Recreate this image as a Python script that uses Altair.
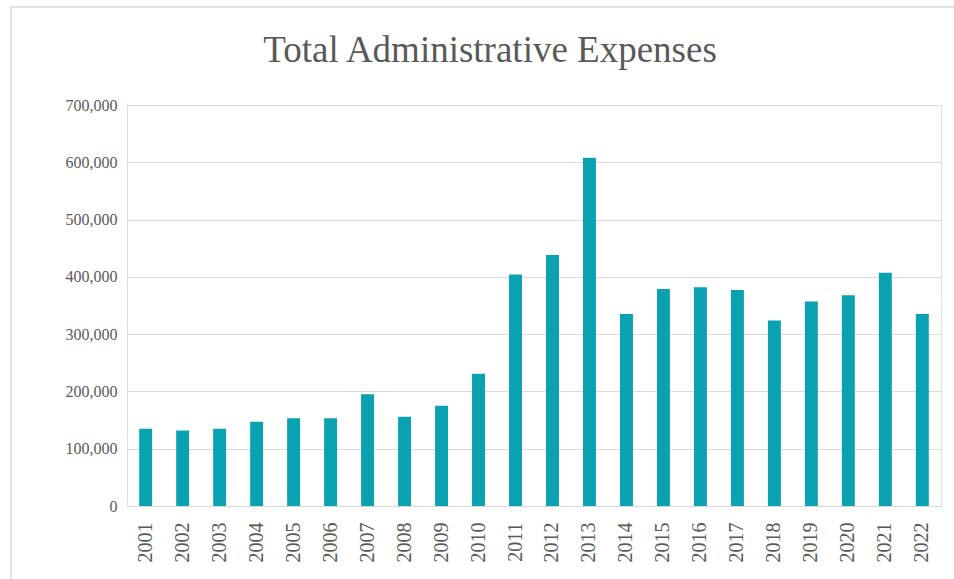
import altair as alt
import pandas as pd

title_text = "Total Administrative Expenses"
years = [str(y) for y in range(2001, 2023)]
expenses = [135000, 132000, 135000, 147000, 153000, 153000, 195000, 156000, 175000, 231000,
            404000, 438000, 608000, 335000, 379000, 382000, 377000, 324000, 357000, 368000,
            407000, 335000]
y_ticks = [0, 100000, 200000, 300000, 400000, 500000, 600000, 700000]

df = pd.DataFrame({"Year": years, "Expenses": expenses})
single = pd.DataFrame({"t": [title_text]})

W, H = 814, 401
FONT = "Liberation Serif"

bars = alt.Chart(df).mark_bar(color="#0aa2b1").encode(
    x=alt.X("Year:N", sort=years,
            scale=alt.Scale(paddingInner=0.65, paddingOuter=0.33),
            axis=alt.Axis(title=None, labelAngle=270, labelFont=FONT, labelFontSize=20,
                          labelColor="#595959", labelPadding=16, ticks=False,
                          domainColor="#d9d9d9", labelBaseline="middle", labelAlign="right")),
    y=alt.Y("Expenses:Q", scale=alt.Scale(domain=[0, 700000], nice=False),
            axis=alt.Axis(title=None, values=y_ticks, format=",d", labelFont=FONT,
                          labelFontSize=16, labelColor="#595959", labelPadding=10,
                          ticks=False, domain=False, gridColor="#d9d9d9", gridWidth=1)),
)

frame = alt.Chart(single).mark_rect(fill=None, stroke="#d9d9d9", strokeWidth=1.5).encode(
    x=alt.value(-116), x2=alt.value(W + 40), y=alt.value(-98), y2=alt.value(H + 100)
)

title = alt.Chart(single).mark_text(font=FONT, fontSize=37, color="#595959",
                                    align="center", baseline="middle").encode(
    x=alt.value(363), y=alt.value(-54), text="t:N"
)

chart = alt.layer(frame, title, bars).properties(
    width=W, height=H,
    autosize=alt.AutoSizeParams(type="none"),
    padding={"left": 127, "top": 105, "right": 13, "bottom": 73},
).configure_view(stroke=None).configure(background="white")

chart.save("out.html", embed_options={"renderer": "svg", "actions": False})
